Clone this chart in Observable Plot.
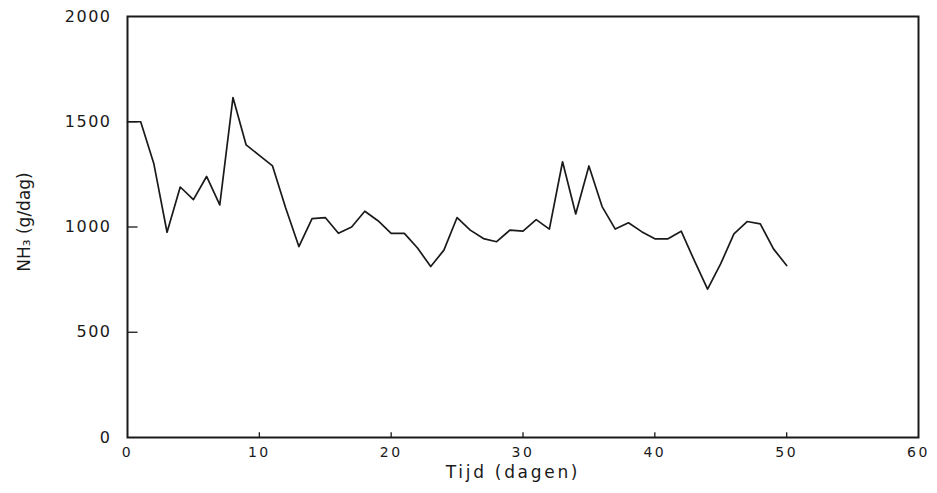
<!DOCTYPE html>
<html>
<head>
<meta charset="utf-8">
<script src="https://cdn.jsdelivr.net/npm/d3@7"></script>
<script src="https://cdn.jsdelivr.net/npm/@observablehq/plot@0.6"></script>
<style>
  html, body { margin: 0; padding: 0; background: #fff; }
  #chart svg { display: block; }
  #chart g[aria-label="y-axis tick label"] text { letter-spacing: 1.5px; }
  #chart g[aria-label="x-axis tick label"] text { letter-spacing: 2.5px; }
</style>
</head>
<body>
<div id="chart"></div>
<script>
// Day index (Tijd, dagen)
const days = [0,1,2,3,4,5,6,7,8,9,10,11,12,13,14,15,16,17,18,19,20,21,22,23,24,25,26,27,28,29,30,31,32,33,34,35,36,37,38,39,40,41,42,43,44,45,46,47,48,49,50];
// NH3 emission (g/dag)
const nh3 = [1500,1500,1300,975,1190,1130,1240,1105,1615,1390,1340,1290,1090,907,1040,1045,970,1000,1075,1030,970,970,900,812,890,1045,985,945,930,985,980,1035,990,1310,1062,1290,1097,990,1020,978,944,944,980,840,705,826,967,1026,1015,896,817];
const xTicks = [0,10,20,30,40,50,60];
const yTicks = [0,500,1000,1500,2000];

const data = days.map((d, i) => ({day: d, value: nh3[i]}));

const font = "DejaVu Sans, sans-serif";
const ink = "#1a1a1a";

const chart = Plot.plot({
  width: 937,
  height: 493,
  marginLeft: 127,
  marginRight: 19,
  marginTop: 16,
  marginBottom: 56,
  style: {fontFamily: font, fontSize: "15px", color: ink, background: "#fff"},
  x: {domain: [0, 60], ticks: xTicks},
  y: {domain: [0, 2000], ticks: yTicks},
  marks: [
    Plot.axisY(yTicks, {tickSize: 0, tickPadding: 16, tickFormat: d => String(d), label: null, fontSize: 16}),
    Plot.axisX(xTicks, {tickSize: 0, tickPadding: 10, tickFormat: d => String(d), label: null, fontSize: 14}),
    // inward ticks
    Plot.ruleY(yTicks.filter(t => t > 0 && t < 2000), {y: d => d, x1: 0, x2: 0.8, stroke: ink, strokeWidth: 1.3}),
    Plot.ruleX(xTicks.filter(t => t > 0 && t < 60), {x: d => d, y1: 0, y2: 22, stroke: ink, strokeWidth: 1.3}),
    Plot.frame({stroke: ink, strokeWidth: 2}),
    Plot.line(data, {x: "day", y: "value", stroke: ink, strokeWidth: 1.7}),
    Plot.text(["Tijd (dagen)"], {frameAnchor: "bottom", dy: 40, dx: -10, fontSize: 17, fill: ink, fontFamily: font}),
    Plot.text(["NH₃ (g/dag)"], {frameAnchor: "left", textAnchor: "middle", dx: -103, dy: -5, rotate: -90, fontSize: 17, fill: ink, fontFamily: font})
  ]
});

d3.select(chart).selectAll("text")
  .filter(function() { return this.textContent === "Tijd (dagen)"; })
  .style("letter-spacing", "2.7px");

document.getElementById("chart").appendChild(chart);
</script>
</body>
</html>
